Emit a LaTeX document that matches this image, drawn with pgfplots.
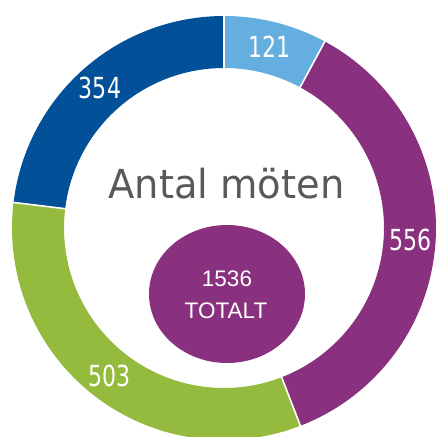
\documentclass[border=0pt]{standalone}
\usepackage{pgfplots}
\pgfplotsset{compat=1.18}
\usepackage{fontspec}
\setmainfont{DejaVu Sans}
\newfontfamily\arial{Liberation Sans}
\definecolor{cLB}{HTML}{65AEE0}
\definecolor{cPU}{HTML}{89307F}
\definecolor{cGR}{HTML}{94BA3E}
\definecolor{cDB}{HTML}{025098}
\definecolor{cTX}{HTML}{595959}
% data
\def\vA{121}\def\vB{556}\def\vC{503}\def\vD{354}
\pgfmathsetmacro\tot{\vA+\vB+\vC+\vD}
\pgfmathsetmacro\k{360/\tot}
\pgfmathsetmacro\aA{0}
\pgfmathsetmacro\aB{\k*\vA}
\pgfmathsetmacro\aC{\k*(\vA+\vB)}
\pgfmathsetmacro\aD{\k*(\vA+\vB+\vC)}
\pgfmathsetmacro\aE{360}
\pgfmathsetmacro\mA{(\aA+\aB)/2}
\pgfmathsetmacro\mB{(\aB+\aC)/2}
\pgfmathsetmacro\mC{(\aC+\aD)/2}
\pgfmathsetmacro\mD{(\aD+\aE)/2}
\newcommand\lbl[1]{\scalebox{0.76}[1]{\fontsize{29}{30}\selectfont #1}}
\begin{document}
\begin{tikzpicture}
\begin{axis}[x=1pt,y=1pt, xmin=-224, xmax=213, ymin=-209, ymax=228,
  ticks=none, axis line style={draw=none}, clip=true]
\addplot[cLB, line width=52pt, domain=\aA:\aB, samples=60, variable=\t] ({186*sin(t)},{186*cos(t)});
\addplot[cPU, line width=52pt, domain=\aB:\aC, samples=120, variable=\t] ({186*sin(t)},{186*cos(t)});
\addplot[cGR, line width=52pt, domain=\aC:\aD, samples=120, variable=\t] ({186*sin(t)},{186*cos(t)});
\addplot[cDB, line width=52pt, domain=\aD:\aE, samples=90, variable=\t] ({186*sin(t)},{186*cos(t)});
% separators
\addplot[white, line width=1.6pt, domain=158:215, samples=2] ({x*sin(\aA)},{x*cos(\aA)});
\addplot[white, line width=1.6pt, domain=158:215, samples=2] ({x*sin(\aB)},{x*cos(\aB)});
\addplot[white, line width=1.6pt, domain=158:215, samples=2] ({x*sin(\aC)},{x*cos(\aC)});
\addplot[white, line width=1.6pt, domain=158:215, samples=2] ({x*sin(\aD)},{x*cos(\aD)});
% labels
\node[white] at (axis cs:{187*sin(\mA)},{187*cos(\mA)}) {\lbl{\vA}};
\node[white] at (axis cs:{187*sin(\mB)},{187*cos(\mB)}) {\lbl{\vB}};
\node[white] at (axis cs:{187*sin(\mC)},{187*cos(\mC)}) {\lbl{\vC}};
\node[white] at (axis cs:{187*sin(\mD)},{187*cos(\mD)}) {\lbl{\vD}};
% center
\node[cTX, anchor=base] at (axis cs:2.5,29) {\scalebox{0.96}[1]{\fontsize{40}{42}\selectfont Antal möten}};
\fill[cPU] (axis cs:3,-66) ellipse [x radius=78, y radius=69];
\node[white, anchor=base] at (axis cs:3,-59) {\arial\fontsize{22.5}{24}\selectfont 1536};
\node[white, anchor=base] at (axis cs:2,-91) {\arial\fontsize{22.5}{24}\selectfont TOTALT};
\end{axis}
\end{tikzpicture}
\end{document}
